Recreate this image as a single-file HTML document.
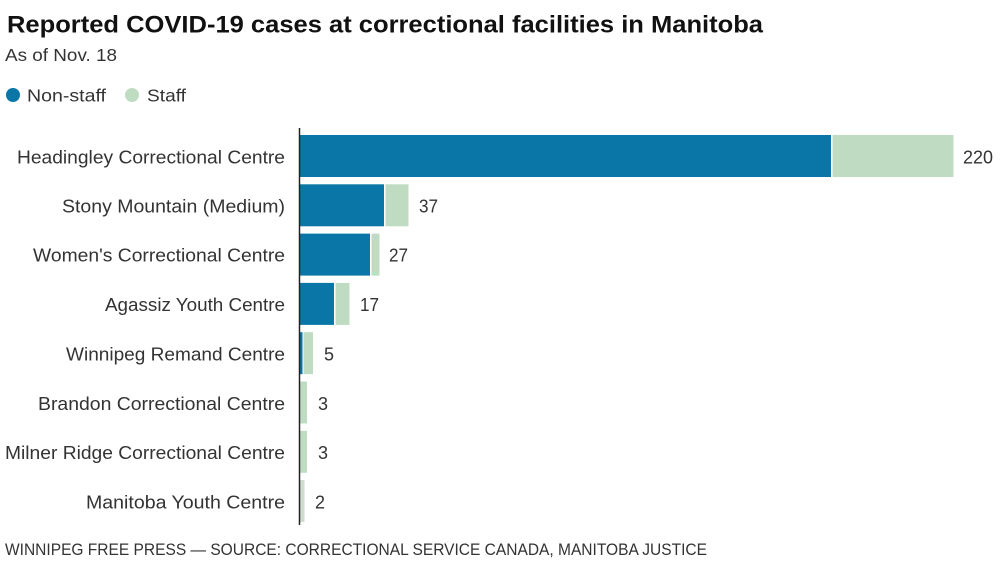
<!DOCTYPE html>
<html><head><meta charset="utf-8"><style>
html,body{margin:0;padding:0;background:#fff;}
svg{display:block;}
text{font-family:"Liberation Sans",sans-serif;}
</style></head><body>
<svg width="1000" height="561" viewBox="0 0 1000 561" xmlns="http://www.w3.org/2000/svg">
<rect width="1000" height="561" fill="#fff"/>
<text x="7" y="32.5" font-size="24" font-weight="bold" fill="#111" textLength="756" lengthAdjust="spacingAndGlyphs">Reported COVID-19 cases at correctional facilities in Manitoba</text>
<text x="5" y="61" font-size="17.5" fill="#333" textLength="112" lengthAdjust="spacingAndGlyphs">As of Nov. 18</text>
<circle cx="13" cy="95" r="7" fill="#0a76a8"/>
<text x="27" y="101.5" font-size="17.5" fill="#333" textLength="79" lengthAdjust="spacingAndGlyphs">Non-staff</text>
<circle cx="132" cy="95" r="7" fill="#bfdcc3"/>
<text x="147" y="101.5" font-size="17.5" fill="#333" textLength="39" lengthAdjust="spacingAndGlyphs">Staff</text>

<g font-size="18" fill="#333">
<text x="17" y="163.3" textLength="268" lengthAdjust="spacingAndGlyphs">Headingley Correctional Centre</text>
<text x="62" y="212.5" textLength="223" lengthAdjust="spacingAndGlyphs">Stony Mountain (Medium)</text>
<text x="33" y="261.5" textLength="252" lengthAdjust="spacingAndGlyphs">Women's Correctional Centre</text>
<text x="105" y="311" textLength="180" lengthAdjust="spacingAndGlyphs">Agassiz Youth Centre</text>
<text x="66" y="360.5" textLength="219" lengthAdjust="spacingAndGlyphs">Winnipeg Remand Centre</text>
<text x="38" y="410" textLength="247" lengthAdjust="spacingAndGlyphs">Brandon Correctional Centre</text>
<text x="5" y="459" textLength="280" lengthAdjust="spacingAndGlyphs">Milner Ridge Correctional Centre</text>
<text x="86" y="508.3" textLength="199" lengthAdjust="spacingAndGlyphs">Manitoba Youth Centre</text>
</g>

<!-- bars -->
<g>
<rect x="300" y="135" width="531" height="42" fill="#0a76a8"/>
<rect x="832.5" y="135" width="121" height="42" fill="#bfdcc3"/>

<rect x="300" y="184.3" width="84" height="42" fill="#0a76a8"/>
<rect x="385.5" y="184.3" width="23" height="42" fill="#bfdcc3"/>

<rect x="300" y="233.6" width="70" height="42" fill="#0a76a8"/>
<rect x="371.5" y="233.6" width="8" height="42" fill="#bfdcc3"/>

<rect x="300" y="282.9" width="34" height="42" fill="#0a76a8"/>
<rect x="335.5" y="282.9" width="14" height="42" fill="#bfdcc3"/>

<rect x="300" y="332.2" width="2.5" height="42" fill="#0a76a8"/>
<rect x="303.5" y="332.2" width="9.5" height="42" fill="#bfdcc3"/>

<rect x="300" y="381.5" width="7" height="42" fill="#bfdcc3"/>
<rect x="300" y="430.8" width="7" height="42" fill="#bfdcc3"/>
<rect x="300" y="480.1" width="4.5" height="42" fill="#cfdccf"/>
</g>
<line x1="299.5" y1="128" x2="299.5" y2="525" stroke="#222" stroke-width="1.5"/>

<g font-size="18" fill="#333">
<text x="963" y="163.3" textLength="30" lengthAdjust="spacingAndGlyphs">220</text>
<text x="419" y="212.5" textLength="19" lengthAdjust="spacingAndGlyphs">37</text>
<text x="389" y="261.5" textLength="19" lengthAdjust="spacingAndGlyphs">27</text>
<text x="360" y="311" textLength="19" lengthAdjust="spacingAndGlyphs">17</text>
<text x="324" y="360.5">5</text>
<text x="318" y="410">3</text>
<text x="318" y="459">3</text>
<text x="315" y="508.3">2</text>
</g>

<text x="5" y="555" font-size="16.5" fill="#333" textLength="702" lengthAdjust="spacingAndGlyphs">WINNIPEG FREE PRESS — SOURCE: CORRECTIONAL SERVICE CANADA, MANITOBA JUSTICE</text>
</svg>
</body></html>
